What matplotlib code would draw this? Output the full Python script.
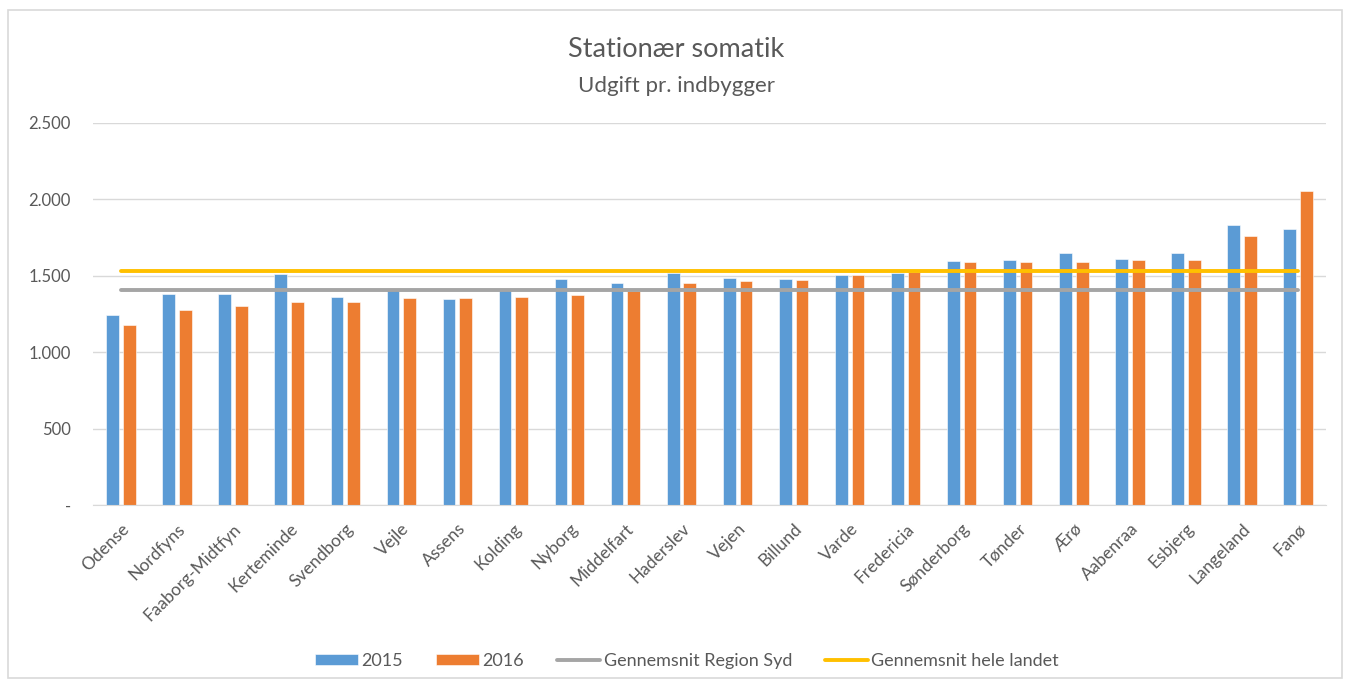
import matplotlib
matplotlib.use("Agg")
import matplotlib.pyplot as plt
import matplotlib.patches as ptc
from matplotlib.ticker import FuncFormatter
import numpy as np

plt.rcParams['font.family'] = ['Lato', 'DejaVu Sans']

kommuner = ['Odense', 'Nordfyns', 'Faaborg-Midtfyn', 'Kerteminde', 'Svendborg',
            'Vejle', 'Assens', 'Kolding', 'Nyborg', 'Middelfart', 'Haderslev',
            'Vejen', 'Billund', 'Varde', 'Fredericia', 'Sønderborg', 'Tønder',
            'Ærø', 'Aabenraa', 'Esbjerg', 'Langeland', 'Fanø']
udgift_2015 = [1247, 1385, 1385, 1514, 1363, 1405, 1352, 1405, 1481, 1452, 1522,
               1487, 1481, 1503, 1522, 1596, 1603, 1651, 1609, 1651, 1835, 1809]
udgift_2016 = [1180, 1275, 1301, 1330, 1330, 1358, 1358, 1365, 1372, 1402, 1452,
               1468, 1474, 1507, 1525, 1588, 1594, 1594, 1603, 1603, 1758, 2053]
snit_region_syd = 1411
snit_hele_landet = 1535
yticks = [0, 500, 1000, 1500, 2000, 2500]

blue = '#5B9BD5'
orange = '#ED7D31'
gray = '#A5A5A5'
yellow = '#FFC000'
txt = '#595959'

fig = plt.figure(figsize=(13.52, 6.86), dpi=100)
# outer chart frame
fig.patches.append(ptc.Rectangle((8 / 1352, 8 / 686), 1334 / 1352, 668 / 686,
                                 transform=fig.transFigure, fill=False,
                                 edgecolor='#D9D9D9', linewidth=1.2))

ax = fig.add_axes([0.0688, 0.2634, 0.912, 0.5573])
x = np.arange(len(kommuner))
w = 0.227
ax.bar(x - 0.149, udgift_2015, w, color=blue, edgecolor='white', linewidth=0.4,
       label='2015', zorder=2)
ax.bar(x + 0.149, udgift_2016, w, color=orange, edgecolor='white', linewidth=0.4,
       label='2016', zorder=2)
ax.plot(x, [snit_region_syd] * len(x), color=gray, linewidth=2.8,
        solid_capstyle='round', label='Gennemsnit Region Syd', zorder=3)
ax.plot(x, [snit_hele_landet] * len(x), color=yellow, linewidth=2.8,
        solid_capstyle='round', label='Gennemsnit hele landet', zorder=3)

ax.set_xlim(-0.5, len(x) - 0.5)
ax.set_ylim(0, 2500)
ax.set_yticks(yticks)
ax.yaxis.set_major_formatter(FuncFormatter(
    lambda v, p: '-' if v == 0 else f'{int(v):,}'.replace(',', '.')))
ax.grid(axis='y', color='#D9D9D9', linewidth=1, zorder=0)
ax.set_axisbelow(True)
for s in ['top', 'right', 'left']:
    ax.spines[s].set_visible(False)
ax.spines['bottom'].set_color('#D9D9D9')
ax.tick_params(axis='both', length=0, labelcolor=txt)
ax.tick_params(axis='y', pad=16, labelsize=12)
ax.set_xticks(x)
ax.set_xticklabels(kommuner, rotation=45, ha='right', rotation_mode='anchor')
ax.tick_params(axis='x', pad=11, labelsize=12.5)

fig.text(0.5, 0.917, 'Stationær somatik', ha='center', va='baseline',
         fontsize=19.5, color=txt)
fig.text(0.5, 0.866, 'Udgift pr. indbygger', ha='center', va='baseline',
         fontsize=16, color=txt)

handles, labels = ax.get_legend_handles_labels()
order = [2, 3, 0, 1]
fig.legend([handles[i] for i in order], [labels[i] for i in order],
           loc='center', bbox_to_anchor=(0.508, 0.036), ncol=4, frameon=False,
           fontsize=13, labelcolor=txt, handlelength=2.4, handleheight=0.55,
           columnspacing=1.8, handletextpad=0.2)

fig.savefig('out.png', dpi=100)
